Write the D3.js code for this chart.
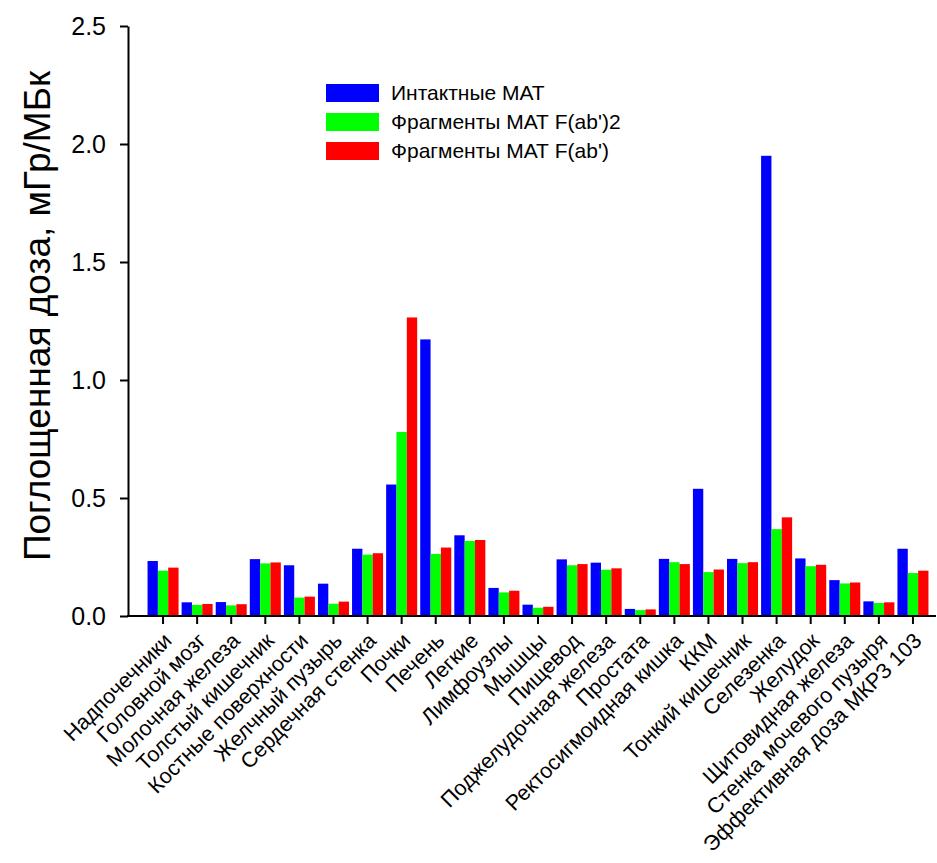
<!DOCTYPE html>
<html>
<head>
<meta charset="utf-8">
<script src="https://cdn.jsdelivr.net/npm/d3@7"></script>
<style>
  body { margin: 0; background: #fff; }
  svg { font-family: "Liberation Sans", Arial, sans-serif; }
</style>
</head>
<body>
<div id="chart"></div>
<script>
// organs / categories
const organs = ["Надпочечники", "Головной мозг", "Молочная железа", "Толстый кишечник",
  "Костные поверхности", "Желчный пузырь", "Сердечная стенка", "Почки", "Печень",
  "Легкие", "Лимфоузлы", "Мышцы", "Пищевод", "Поджелудочная железа", "Простата",
  "Ректосигмоидная кишка", "ККМ", "Тонкий кишечник", "Селезенка", "Желудок",
  "Щитовидная железа", "Стенка мочевого пузыря", "Эффективная доза МКРЗ 103"];

const seriesNames = ["Интактные МАТ", "Фрагменты МАТ F(ab')2", "Фрагменты МАТ F(ab')"];
const seriesColors = ["#0000ff", "#00ff00", "#ff0000"];

const intact = [0.233, 0.058, 0.059, 0.241, 0.215, 0.137, 0.285, 0.557, 1.172, 0.342,
  0.119, 0.048, 0.240, 0.226, 0.030, 0.242, 0.539, 0.242, 1.950, 0.244, 0.152, 0.062, 0.285];
const fab2 = [0.192, 0.047, 0.045, 0.223, 0.078, 0.052, 0.260, 0.780, 0.263, 0.318,
  0.100, 0.035, 0.215, 0.196, 0.025, 0.228, 0.186, 0.224, 0.368, 0.211, 0.138, 0.055, 0.182];
const fab1 = [0.205, 0.051, 0.050, 0.227, 0.082, 0.061, 0.266, 1.265, 0.290, 0.322,
  0.107, 0.039, 0.220, 0.202, 0.028, 0.220, 0.197, 0.228, 0.418, 0.217, 0.142, 0.058, 0.192];

const yTicks = [0, 0.5, 1.0, 1.5, 2.0, 2.5];
const yTitle = "Поглощенная доза, мГр/МБк";

const W = 937, H = 863;
const axisLeft = 128, axisRight = 936, y0 = 616, yTop = 26;

const svg = d3.select("#chart").append("svg")
  .attr("width", W)
  .attr("height", H);

const x = d3.scaleBand()
  .domain(organs)
  .range([146, 930])
  .paddingInner(0.09)
  .paddingOuter(0.045);

const xSub = d3.scaleBand()
  .domain(d3.range(3))
  .range([0, x.bandwidth()]);

const y = d3.scaleLinear()
  .domain([0, 2.5])
  .range([y0, yTop]);

const rows = organs.map((o, i) => ({ organ: o, vals: [intact[i], fab2[i], fab1[i]] }));

// bars
const groups = svg.selectAll("g.grp")
  .data(rows)
  .enter()
  .append("g")
  .attr("class", "grp")
  .attr("transform", d => "translate(" + x(d.organ) + ",0)");

groups.selectAll("rect")
  .data(d => d.vals)
  .enter()
  .append("rect")
  .attr("x", (d, j) => xSub(j))
  .attr("width", xSub.bandwidth())
  .attr("y", d => y(d))
  .attr("height", d => y0 - y(d))
  .style("fill", (d, j) => seriesColors[j]);

// x axis
const xAxis = d3.axisBottom(x).tickSize(8).tickSizeOuter(0);
const gx = svg.append("g")
  .attr("transform", "translate(0," + y0 + ")")
  .call(xAxis);
gx.select(".domain").remove();
gx.selectAll(".tick line").attr("stroke", "#000").attr("stroke-width", 2);
gx.selectAll(".tick text")
  .attr("font-size", 21.5)
  .attr("font-family", "Liberation Sans, Arial, sans-serif")
  .attr("fill", "#000")
  .attr("text-anchor", "end")
  .attr("dy", null)
  .attr("y", 0)
  .attr("transform", "translate(10,26) rotate(-45)");
gx.append("line")
  .attr("x1", axisLeft - 1).attr("x2", axisRight)
  .attr("y1", 0).attr("y2", 0)
  .attr("stroke", "#000").attr("stroke-width", 2);

// y axis
const yAxis = d3.axisLeft(y).tickValues(yTicks).tickFormat(d3.format(".1f")).tickSize(8).tickSizeOuter(0);
const gy = svg.append("g")
  .attr("transform", "translate(" + axisLeft + ",0)")
  .call(yAxis);
gy.select(".domain").attr("stroke-width", 2);
gy.selectAll(".tick line").attr("stroke-width", 2);
gy.selectAll(".tick text")
  .attr("font-size", 25)
  .attr("font-family", "Liberation Sans, Arial, sans-serif")
  .attr("fill", "#000")
  .attr("x", -22);

// y title
svg.append("text")
  .attr("transform", "translate(50," + 316 + ") rotate(-90)")
  .attr("text-anchor", "middle")
  .attr("font-size", 37)
  .attr("fill", "#000")
  .text(yTitle);

// legend
const legend = svg.append("g").attr("transform", "translate(326,84)");
const li = legend.selectAll("g")
  .data(seriesNames)
  .enter()
  .append("g")
  .attr("transform", (d, i) => "translate(0," + i * 29 + ")");
li.append("rect")
  .attr("width", 53)
  .attr("height", 18)
  .style("fill", (d, i) => seriesColors[i]);
li.append("text")
  .attr("x", 65)
  .attr("y", 16)
  .attr("font-size", 21)
  .attr("fill", "#000")
  .text(d => d);
</script>
</body>
</html>
